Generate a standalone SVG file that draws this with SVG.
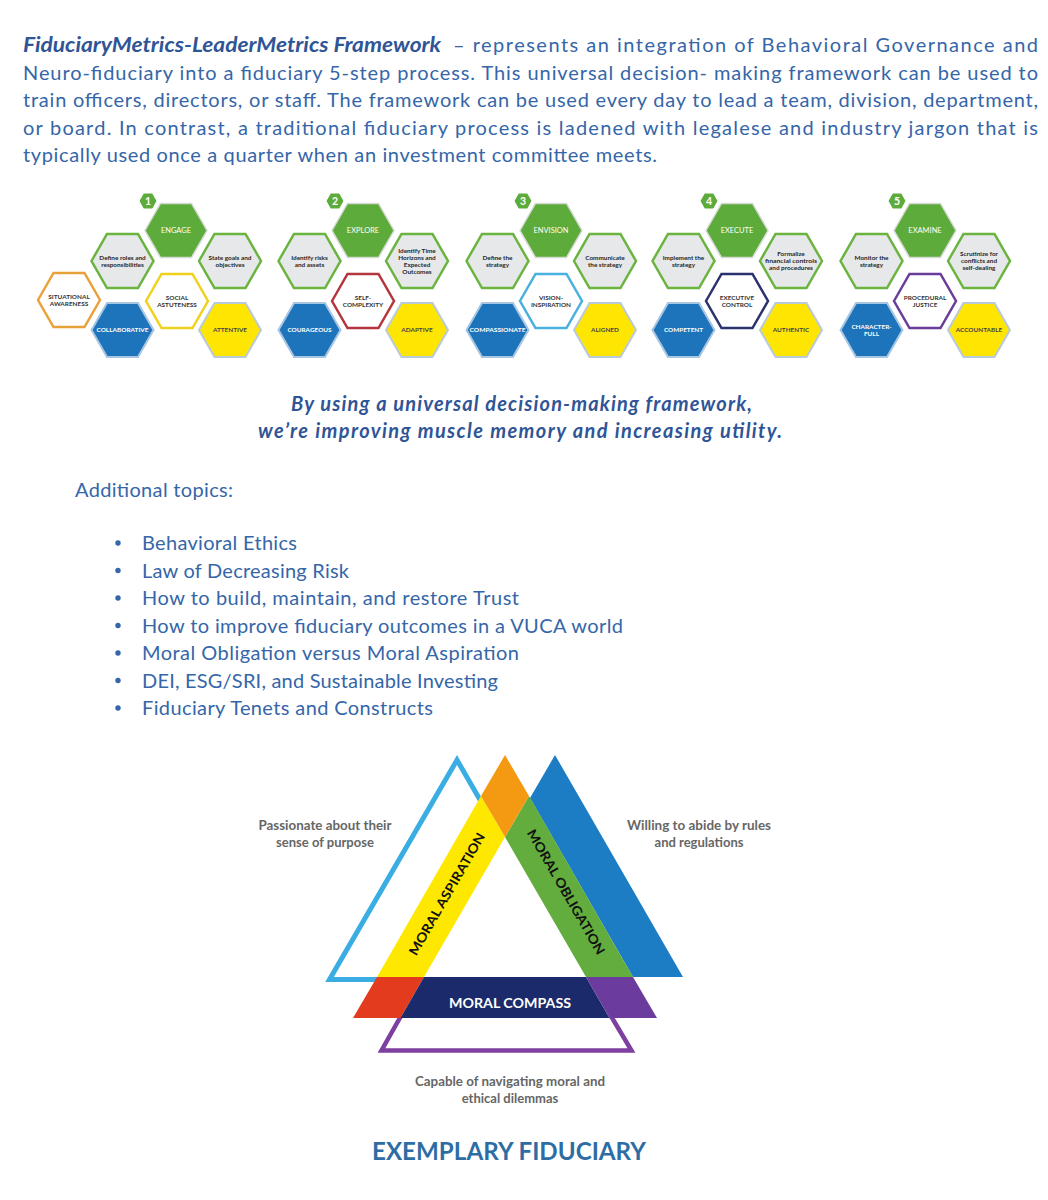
<svg xmlns="http://www.w3.org/2000/svg" xmlns:xlink="http://www.w3.org/1999/xlink" width="1048" height="1200" viewBox="0 0 1048 1200">
<defs>
<polygon id="hex" points="-31,0 -15.5,-27 15.5,-27 31,0 15.5,27 -15.5,27"/>
<polygon id="badge" points="-9,0 -4.5,-8 4.5,-8 9,0 4.5,8 -4.5,8"/>
<style>
.para{font-family:Lato,"Liberation Sans",sans-serif;font-size:20px;fill:#3566A8}
.parab{font-family:Lato,"Liberation Sans",sans-serif;font-size:20px;font-weight:700;font-style:italic;fill:#2F5597}
.cent{font-family:Lato,"Liberation Sans",sans-serif;font-size:20px;font-weight:700;font-style:italic;fill:#2F5597;text-anchor:middle}
.list{font-family:Lato,"Liberation Sans",sans-serif;font-size:20px;fill:#3566A8}
.dot{fill:#3566A8}
.hmain{fill:#5DAB3B;stroke:#D5DAD2;stroke-width:1.5}
.hgray{fill:#E7E8EA;stroke:#6AB43F;stroke-width:2.5}
.hblue{fill:#1D74BB;stroke:#A8C6E2;stroke-width:2}
.hyel{fill:#FFE502;stroke:#B9CAD8;stroke-width:2}
.hw{fill:#FFFFFF;stroke-width:2.5}
.bdg{fill:#5DAB3B;stroke:#FFFFFF;stroke-width:1}
.t{font-family:Lato,"Liberation Sans",sans-serif;text-anchor:middle}
.tm{font-size:7.5px;fill:#FFFFFF}
.tg{font-size:6.4px;fill:#262626;font-weight:700}
.tc{font-size:6.4px;fill:#333333;font-weight:700}
.tb{font-size:6.4px;fill:#FFFFFF;font-weight:700}
.ty{font-size:6.4px;fill:#444444;font-weight:700}
.tn{font-size:10.5px;fill:#FFFFFF;font-weight:700}
.side{font-family:Lato,"Liberation Sans",sans-serif;font-size:13px;font-weight:700;fill:#666666;text-anchor:middle}
.band{font-family:Lato,"Liberation Sans",sans-serif;font-size:13px;font-weight:700;fill:#111111;text-anchor:middle}
</style>
</defs>
<rect x="0" y="0" width="1048" height="1200" fill="#FFFFFF"/>

<g id="paragraph">
<text class="parab" x="23" y="52" textLength="418" lengthAdjust="spacingAndGlyphs">FiduciaryMetrics-LeaderMetrics Framework</text>
<text class="para" x="453" y="52" textLength="585" lengthAdjust="spacing">– represents an integration of Behavioral Governance and</text>
<text class="para" x="23" y="80" textLength="1015" lengthAdjust="spacing">Neuro-fiduciary into a fiduciary 5-step process. This universal decision- making framework can be used to</text>
<text class="para" x="23" y="107" textLength="1015" lengthAdjust="spacing">train officers, directors, or staff. The framework can be used every day to lead a team, division, department,</text>
<text class="para" x="23" y="135" textLength="1015" lengthAdjust="spacing">or board. In contrast, a traditional fiduciary process is ladened with legalese and industry jargon that is</text>
<text class="para" x="23" y="162" textLength="634" lengthAdjust="spacing">typically used once a quarter when an investment committee meets.</text>
</g>

<!-- Step 1 -->
<g id="step1" transform="translate(176,0)">
<g id="s1-badge"><use href="#badge" class="bdg" x="-28" y="201"/><text class="t tn" x="-28" y="204.7">1</text></g>
<g id="s1-engage"><use href="#hex" class="hmain" x="0" y="230.5"/><text class="t tm" x="0" y="233">ENGAGE</text></g>
<g id="s1-define"><use href="#hex" class="hgray" x="-53.5" y="261"/><text class="t tg" x="-53.5" y="259.7">Define roles and</text><text class="t tg" x="-53.5" y="266.7">responsibilities</text></g>
<g id="s1-state"><use href="#hex" class="hgray" x="54" y="261"/><text class="t tg" x="54" y="259.7">State goals and</text><text class="t tg" x="54" y="266.7">objectives</text></g>
<g id="s1-situational"><use href="#hex" class="hw" stroke="#E9A23B" x="-107" y="300"/><text class="t tc" x="-107" y="298.7">SITUATIONAL</text><text class="t tc" x="-107" y="305.7">AWARENESS</text></g>
<g id="s1-social"><use href="#hex" class="hw" stroke="#F0D21E" x="1" y="301"/><text class="t tc" x="1" y="299.7">SOCIAL</text><text class="t tc" x="1" y="306.7">ASTUTENESS</text></g>
<g id="s1-collab"><use href="#hex" class="hblue" x="-53.5" y="330"/><text class="t tb" x="-53.5" y="332.3" textLength="52" lengthAdjust="spacingAndGlyphs">COLLABORATIVE</text></g>
<g id="s1-attentive"><use href="#hex" class="hyel" x="54" y="330"/><text class="t ty" x="54" y="332.3">ATTENTIVE</text></g>
</g>

<!-- Step 2 -->
<g id="step2" transform="translate(363,0)">
<g id="s2-badge"><use href="#badge" class="bdg" x="-28" y="201"/><text class="t tn" x="-28" y="204.7">2</text></g>
<g id="s2-explore"><use href="#hex" class="hmain" x="0" y="230.5"/><text class="t tm" x="0" y="233">EXPLORE</text></g>
<g id="s2-risks"><use href="#hex" class="hgray" x="-53.5" y="261"/><text class="t tg" x="-53.5" y="259.7">Identify risks</text><text class="t tg" x="-53.5" y="266.7">and assets</text></g>
<g id="s2-time"><use href="#hex" class="hgray" x="54" y="261"/><text class="t tg" x="54" y="252.7">Identify Time</text><text class="t tg" x="54" y="259.7">Horizons and</text><text class="t tg" x="54" y="266.7">Expected</text><text class="t tg" x="54" y="273.7">Outcomes</text></g>
<g id="s2-self"><use href="#hex" class="hw" stroke="#B3363C" x="0" y="301"/><text class="t tc" x="0" y="299.7">SELF-</text><text class="t tc" x="0" y="306.7">COMPLEXITY</text></g>
<g id="s2-courageous"><use href="#hex" class="hblue" x="-53.5" y="330"/><text class="t tb" x="-53.5" y="332.3">COURAGEOUS</text></g>
<g id="s2-adaptive"><use href="#hex" class="hyel" x="54" y="330"/><text class="t ty" x="54" y="332.3">ADAPTIVE</text></g>
</g>

<!-- Step 3 -->
<g id="step3" transform="translate(551,0)">
<g id="s3-badge"><use href="#badge" class="bdg" x="-28" y="201"/><text class="t tn" x="-28" y="204.7">3</text></g>
<g id="s3-envision"><use href="#hex" class="hmain" x="0" y="230.5"/><text class="t tm" x="0" y="233">ENVISION</text></g>
<g id="s3-define"><use href="#hex" class="hgray" x="-53.5" y="261"/><text class="t tg" x="-53.5" y="259.7">Define the</text><text class="t tg" x="-53.5" y="266.7">strategy</text></g>
<g id="s3-communicate"><use href="#hex" class="hgray" x="54" y="261"/><text class="t tg" x="54" y="259.7">Communicate</text><text class="t tg" x="54" y="266.7">the strategy</text></g>
<g id="s3-vision"><use href="#hex" class="hw" stroke="#4AB0DE" x="0" y="301"/><text class="t tc" x="0" y="299.7">VISION-</text><text class="t tc" x="0" y="306.7">INSPIRATION</text></g>
<g id="s3-compassionate"><use href="#hex" class="hblue" x="-53.5" y="330"/><text class="t tb" x="-53.5" y="332.3" textLength="56" lengthAdjust="spacingAndGlyphs">COMPASSIONATE</text></g>
<g id="s3-aligned"><use href="#hex" class="hyel" x="54" y="330"/><text class="t ty" x="54" y="332.3">ALIGNED</text></g>
</g>

<!-- Step 4 -->
<g id="step4" transform="translate(737,0)">
<g id="s4-badge"><use href="#badge" class="bdg" x="-28" y="201"/><text class="t tn" x="-28" y="204.7">4</text></g>
<g id="s4-execute"><use href="#hex" class="hmain" x="0" y="230.5"/><text class="t tm" x="0" y="233">EXECUTE</text></g>
<g id="s4-implement"><use href="#hex" class="hgray" x="-53.5" y="261"/><text class="t tg" x="-53.5" y="259.7">Implement the</text><text class="t tg" x="-53.5" y="266.7">strategy</text></g>
<g id="s4-formalize"><use href="#hex" class="hgray" x="54" y="261"/><text class="t tg" x="54" y="256.2">Formalize</text><text class="t tg" x="54" y="263.2" textLength="52" lengthAdjust="spacingAndGlyphs">financial controls</text><text class="t tg" x="54" y="270.2">and procedures</text></g>
<g id="s4-control"><use href="#hex" class="hw" stroke="#2B3270" x="0" y="301"/><text class="t tc" x="0" y="299.7">EXECUTIVE</text><text class="t tc" x="0" y="306.7">CONTROL</text></g>
<g id="s4-competent"><use href="#hex" class="hblue" x="-53.5" y="330"/><text class="t tb" x="-53.5" y="332.3">COMPETENT</text></g>
<g id="s4-authentic"><use href="#hex" class="hyel" x="54" y="330"/><text class="t ty" x="54" y="332.3">AUTHENTIC</text></g>
</g>

<!-- Step 5 -->
<g id="step5" transform="translate(925,0)">
<g id="s5-badge"><use href="#badge" class="bdg" x="-28" y="201"/><text class="t tn" x="-28" y="204.7">5</text></g>
<g id="s5-examine"><use href="#hex" class="hmain" x="0" y="230.5"/><text class="t tm" x="0" y="233">EXAMINE</text></g>
<g id="s5-monitor"><use href="#hex" class="hgray" x="-53.5" y="261"/><text class="t tg" x="-53.5" y="259.7">Monitor the</text><text class="t tg" x="-53.5" y="266.7">strategy</text></g>
<g id="s5-scrutinize"><use href="#hex" class="hgray" x="54" y="261"/><text class="t tg" x="54" y="256.2">Scrutinize for</text><text class="t tg" x="54" y="263.2">conflicts and</text><text class="t tg" x="54" y="270.2">self-dealing</text></g>
<g id="s5-justice"><use href="#hex" class="hw" stroke="#6A3D9A" x="0" y="301"/><text class="t tc" x="0" y="299.7">PROCEDURAL</text><text class="t tc" x="0" y="306.7">JUSTICE</text></g>
<g id="s5-character"><use href="#hex" class="hblue" x="-53.5" y="330"/><text class="t tb" x="-53.5" y="328.7">CHARACTER-</text><text class="t tb" x="-53.5" y="335.7">FULL</text></g>
<g id="s5-accountable"><use href="#hex" class="hyel" x="54" y="330"/><text class="t ty" x="54" y="332.3">ACCOUNTABLE</text></g>
</g>

<g id="tagline">
<text class="cent" x="521.5" y="411" textLength="461" lengthAdjust="spacing">By using a universal decision-making framework,</text>
<text class="cent" x="520" y="438" textLength="524" lengthAdjust="spacing">we’re improving muscle memory and increasing utility.</text>
</g>

<g id="topics">
<text class="list" x="75" y="497" textLength="158" lengthAdjust="spacing">Additional topics:</text>
<circle class="dot" cx="118" cy="543" r="2.7"/><text class="list" x="142" y="550" textLength="155" lengthAdjust="spacing">Behavioral Ethics</text>
<circle class="dot" cx="118" cy="570.5" r="2.7"/><text class="list" x="142" y="577.5" textLength="207" lengthAdjust="spacing">Law of Decreasing Risk</text>
<circle class="dot" cx="118" cy="598" r="2.7"/><text class="list" x="142" y="605" textLength="377" lengthAdjust="spacing">How to build, maintain, and restore Trust</text>
<circle class="dot" cx="118" cy="625.5" r="2.7"/><text class="list" x="142" y="632.5" textLength="481" lengthAdjust="spacing">How to improve fiduciary outcomes in a VUCA world</text>
<circle class="dot" cx="118" cy="653" r="2.7"/><text class="list" x="142" y="660" textLength="377" lengthAdjust="spacing">Moral Obligation versus Moral Aspiration</text>
<circle class="dot" cx="118" cy="680.5" r="2.7"/><text class="list" x="142" y="687.5" textLength="356" lengthAdjust="spacing">DEI, ESG/SRI, and Sustainable Investing</text>
<circle class="dot" cx="118" cy="708" r="2.7"/><text class="list" x="142" y="715" textLength="291" lengthAdjust="spacing">Fiduciary Tenets and Constructs</text>
</g>

<g id="triangle">
<polyline points="487,812 457,760 329.5,979.5 390,979.5" fill="none" stroke="#3AAEE3" stroke-width="5" stroke-linejoin="miter"/>
<polygon points="555,755 683,977 633,977 530,798" fill="#1C7CC4"/>
<polygon points="481,796 505,837 424,977 377,977" fill="#FFE800"/>
<polygon points="529,796 633,977 586,977 505,837" fill="#62AD3E"/>
<polygon points="505,755 529,796 505,837 481,796" fill="#F39A12"/>
<polyline points="401,1016 381.5,1050.5 631.5,1050.5 611,1016" fill="none" stroke="#7D3FA0" stroke-width="4.5" stroke-linejoin="miter"/>
<polygon points="377,977 424,977 400.5,1018 353,1018" fill="#E33B1E"/>
<polygon points="424,977 586,977 609.5,1018 400.5,1018" fill="#1B2A6A"/>
<polygon points="586,977 633,977 657,1018 609.5,1018" fill="#6B3C9E"/>
<text class="band" transform="translate(447,894) rotate(-60)" x="0" y="4.5" textLength="139" lengthAdjust="spacingAndGlyphs">MORAL ASPIRATION</text>
<text class="band" transform="translate(566,892) rotate(60)" x="0" y="4.5" textLength="142" lengthAdjust="spacingAndGlyphs">MORAL OBLIGATION</text>
<text class="band" x="510" y="1008" style="fill:#FFFFFF;font-size:14px" textLength="122" lengthAdjust="spacingAndGlyphs">MORAL COMPASS</text>
<text class="side" x="325" y="830" textLength="133" lengthAdjust="spacingAndGlyphs">Passionate about their</text>
<text class="side" x="325" y="846.5">sense of purpose</text>
<text class="side" x="699" y="830" textLength="144" lengthAdjust="spacingAndGlyphs">Willing to abide by rules</text>
<text class="side" x="699" y="846.5">and regulations</text>
<text class="side" x="510" y="1086" textLength="190" lengthAdjust="spacingAndGlyphs">Capable of navigating moral and</text>
<text class="side" x="510" y="1102.5">ethical dilemmas</text>
<text x="509" y="1160" text-anchor="middle" font-family="Lato, 'Liberation Sans', sans-serif" font-size="25" font-weight="700" fill="#2E6DA4" textLength="274" lengthAdjust="spacingAndGlyphs">EXEMPLARY FIDUCIARY</text>
</g>
</svg>
